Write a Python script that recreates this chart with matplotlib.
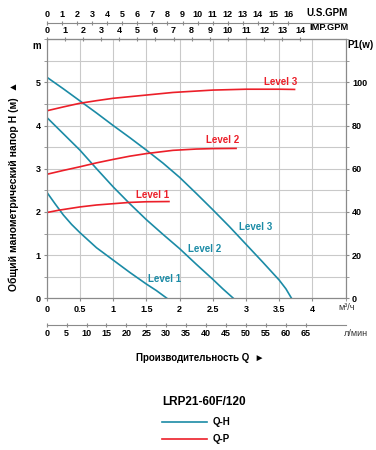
import numpy as np
import matplotlib
matplotlib.use('Agg')
import matplotlib.pyplot as plt
from matplotlib.lines import Line2D

plt.rcParams['font.family'] = ['Liberation Sans', 'DejaVu Sans']
plt.rcParams['font.weight'] = 'bold'

BLUE = '#1b8ba6'
RED = '#ec1f29'
GRID = '#c9c9c9'
AXC = '#8a8a8a'

# Q-H curves (Q in m3/h, H in m)
q_h1 = [0, 0.125, 0.25, 0.375, 0.5, 0.75, 1.0, 1.25, 1.5, 1.65, 1.81]
h_1 = [2.46, 2.19, 1.93, 1.71, 1.52, 1.17, 0.885, 0.60, 0.33, 0.18, 0]
q_h2 = [0, 0.25, 0.5, 0.75, 1.0, 1.25, 1.5, 1.75, 2.0, 2.25, 2.5, 2.65, 2.81]
h_2 = [4.19, 3.81, 3.43, 3.00, 2.58, 2.19, 1.82, 1.48, 1.15, 0.79, 0.44, 0.22, 0]
q_h3 = [0, 0.25, 0.5, 0.75, 1.0, 1.25, 1.5, 1.75, 2.0, 2.25, 2.5, 2.75, 3.0,
        3.25, 3.5, 3.6, 3.685]
h_3 = [5.12, 4.85, 4.57, 4.29, 4.00, 3.72, 3.43, 3.13, 2.80, 2.43, 2.05, 1.66,
       1.25, 0.84, 0.42, 0.22, 0]

# Q-P curves (Q in m3/h, P1 in W)
q_p1 = [0, 0.185, 0.5, 0.75, 1.0, 1.25, 1.5, 1.84]
p_1 = [39.7, 40.8, 42.3, 43.2, 43.8, 44.4, 44.7, 44.8]
q_p2 = [0, 0.25, 0.5, 0.75, 1.0, 1.25, 1.5, 1.9, 2.25, 2.5, 2.85]
p_2 = [57.4, 59.2, 60.9, 62.7, 64.3, 65.8, 67.0, 68.5, 69.1, 69.3, 69.4]
q_p3 = [0, 0.25, 0.5, 0.75, 1.0, 1.5, 1.9, 2.5, 3.0, 3.5, 3.73]
p_3 = [86.8, 88.6, 90.3, 91.5, 92.6, 94.1, 95.3, 96.4, 96.8, 96.8, 96.7]

h_ticks = [0, 1, 2, 3, 4, 5]
p_ticks = [0, 20, 40, 60, 80, 100]
m3h_ticks = [0, 0.5, 1, 1.5, 2, 2.5, 3, 3.5, 4]
lmin_ticks = list(range(0, 70, 5))
imp_ticks = list(range(0, 15))
us_ticks = list(range(0, 17))

fig = plt.figure(figsize=(3.76, 4.5), dpi=100)
ax = fig.add_axes([0.1242, 0.3371, 0.7952, 0.5760])
ax.set_xlim(0, 4.5)
ax.set_ylim(0, 6)

ax.set_xticks(m3h_ticks)
ax.set_xticklabels([f'{t:g}' for t in m3h_ticks])
ax.set_xticks(np.arange(0, 4.51, 0.5), minor=True)
ax.set_yticks(h_ticks)
ax.set_yticks(np.arange(0, 6.01, 0.5), minor=True)
ax.grid(which='both', color=GRID, lw=0.8)
ax.set_axisbelow(True)
ax.tick_params(which='both', labelsize=6.5, length=2.5, color=AXC, pad=2)
for s in ax.spines.values():
    s.set_color(AXC)

ax.plot(q_h1, h_1, color=BLUE, lw=1.2)
ax.plot(q_h2, h_2, color=BLUE, lw=1.2)
ax.plot(q_h3, h_3, color=BLUE, lw=1.2)

ax2 = ax.twinx()
ax2.set_ylim(0, 120)
ax2.set_yticks(p_ticks)
ax2.set_yticks(np.arange(0, 121, 10), minor=True)
ax2.tick_params(which='both', labelsize=6.5, length=2.5, color=AXC, pad=2)
for s in ax2.spines.values():
    s.set_color(AXC)
ax2.plot(q_p1, p_1, color=RED, lw=1.2)
ax2.plot(q_p2, p_2, color=RED, lw=1.2)
ax2.plot(q_p3, p_3, color=RED, lw=1.2)

lab = dict(fontsize=7, fontweight='bold', ha='center', va='center')
ax.text(3.52, 5.01, 'Level 3', color=RED, **lab)
ax.text(2.645, 3.66, 'Level 2', color=RED, **lab)
ax.text(1.6, 2.39, 'Level 1', color=RED, **lab)
ax.text(3.15, 1.66, 'Level 3', color=BLUE, **lab)
ax.text(2.37, 1.14, 'Level 2', color=BLUE, **lab)
ax.text(1.775, 0.45, 'Level 1', color=BLUE, **lab)

# extra flow scales
imp = ax.secondary_xaxis('top', functions=(lambda x: x * 3.6662, lambda x: x / 3.6662))
imp.set_xticks(imp_ticks)
us = ax.secondary_xaxis(1.062, functions=(lambda x: x * 4.4029, lambda x: x / 4.4029))
us.set_xticks(us_ticks)
lmin = ax.secondary_xaxis(-0.104, functions=(lambda x: x * 16.667, lambda x: x / 16.667))
lmin.set_xticks(lmin_ticks)
for sa in (imp, us, lmin):
    sa.tick_params(labelsize=6.5, length=3, direction='inout', color=AXC, pad=1.5)
    for s in sa.spines.values():
        s.set_color(AXC)

fig.text(348 / 376, 1 - 13 / 450, 'U.S.GPM', fontsize=7, ha='right', va='center')
fig.text(349 / 376, 1 - 27 / 450, 'IMP.GPM', fontsize=6.7, ha='right', va='center')
fig.text(37 / 376, 1 - 46 / 450, 'm', fontsize=7, ha='center', va='center')
fig.text(347 / 376, 1 - 45 / 450, 'P1(w)', fontsize=7, ha='left', va='center')
fig.text(347 / 376, 1 - 308 / 450, 'м³/ч', fontsize=6.5, fontweight='normal',
         ha='center', va='center', color='#333333')
fig.text(356 / 376, 1 - 333 / 450, 'л/мин', fontsize=6.5, fontweight='normal',
         ha='center', va='center', color='#333333')
fig.text(14 / 376, 1 - 186 / 450, 'Общий манометрический напор H (м)  ▲', fontsize=7.5,
         rotation=90, ha='center', va='center')
fig.text(200 / 376, 1 - 358 / 450, 'Производительность Q  ►', fontsize=7,
         ha='center', va='center')

# legend
fig.text(162 / 376, 1 - 402 / 450, 'LRP21-60F/120', fontsize=8.5, ha='left', va='center')
fig.add_artist(Line2D([162 / 376, 207 / 376], [1 - 422 / 450] * 2, color=BLUE, lw=1.2))
fig.add_artist(Line2D([162 / 376, 207 / 376], [1 - 439 / 450] * 2, color=RED, lw=1.2))
fig.text(213 / 376, 1 - 422 / 450, 'Q-H', fontsize=7, ha='left', va='center')
fig.text(213 / 376, 1 - 439 / 450, 'Q-P', fontsize=7, ha='left', va='center')

fig.savefig('out.png', dpi=100)
